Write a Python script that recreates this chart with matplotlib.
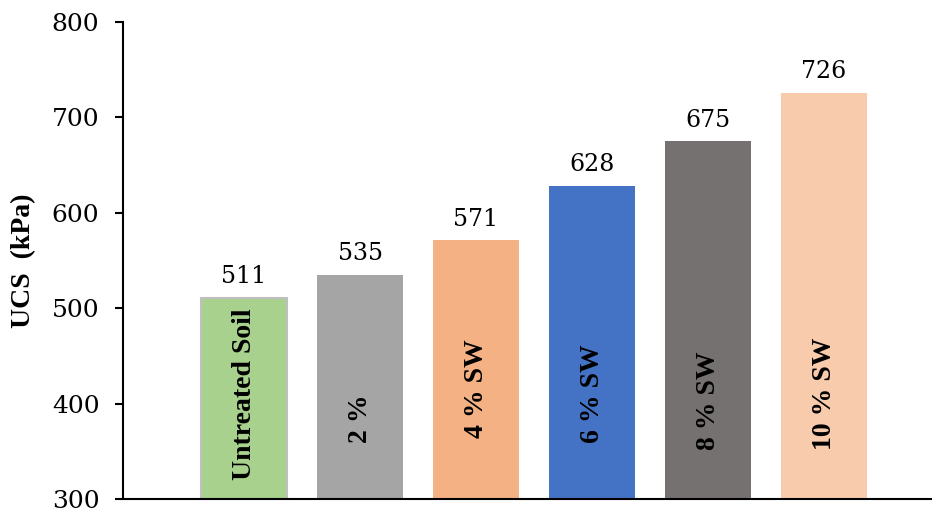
import numpy as np
import matplotlib
matplotlib.use("Agg")
import matplotlib.pyplot as plt

# data
categories = ['Untreated Soil', '2 %', '4 % SW', '6 % SW', '8 % SW', '10 % SW']
ucs_values = [511, 535, 571, 628, 675, 726]
bar_colors = ['#A9D18E', '#A5A5A5', '#F4B183', '#4472C4', '#767171', '#F8CBAD']
edge_colors = ['#BFBFBF', 'none', 'none', 'none', 'none', 'none']
label_bottoms = [320, 359, 364, 359, 351, 351]   # where each rotated name starts
y_ticks = [300, 400, 500, 600, 700, 800]

fig = plt.figure(figsize=(9.32, 5.11), dpi=100)
ax = fig.add_axes([123 / 932, 12 / 511, 1 - 123 / 932, 477 / 511])

x = np.arange(len(categories))
bars = ax.bar(x, ucs_values, width=0.74, color=bar_colors,
              edgecolor=edge_colors, linewidth=1.5, zorder=2)

# value on top of each bar
for bar, v in zip(bars, ucs_values):
    ax.annotate(f'{v}', (bar.get_x() + bar.get_width() / 2, v),
                xytext=(0, 7), textcoords='offset points',
                ha='center', va='bottom', fontsize=17, family='DejaVu Serif')

# category names written vertically inside bars
for xi, name, yb in zip(x, categories, label_bottoms):
    ax.text(xi, yb, name, rotation=90, ha='center', va='bottom',
            fontsize=20, fontweight='bold', family='Liberation Serif', zorder=3)

ax.set_ylim(300, 800)
ax.set_xlim(-1.043, 5.93)
ax.set_yticks(y_ticks)
ax.set_yticklabels([str(t) for t in y_ticks], family='DejaVu Serif', fontsize=18)
ax.set_xticks([])
ax.tick_params(axis='y', direction='out', length=6, width=1.5, pad=11)

ax.set_ylabel('UCS  (kPa)', fontsize=20, fontweight='bold', family='Liberation Serif')
ax.yaxis.set_label_coords(-0.108, 0.5)

for side in ['top', 'right']:
    ax.spines[side].set_visible(False)
for side in ['left', 'bottom']:
    ax.spines[side].set_linewidth(1.5)
    ax.spines[side].set_color('black')

fig.savefig('out.png', dpi=100)
